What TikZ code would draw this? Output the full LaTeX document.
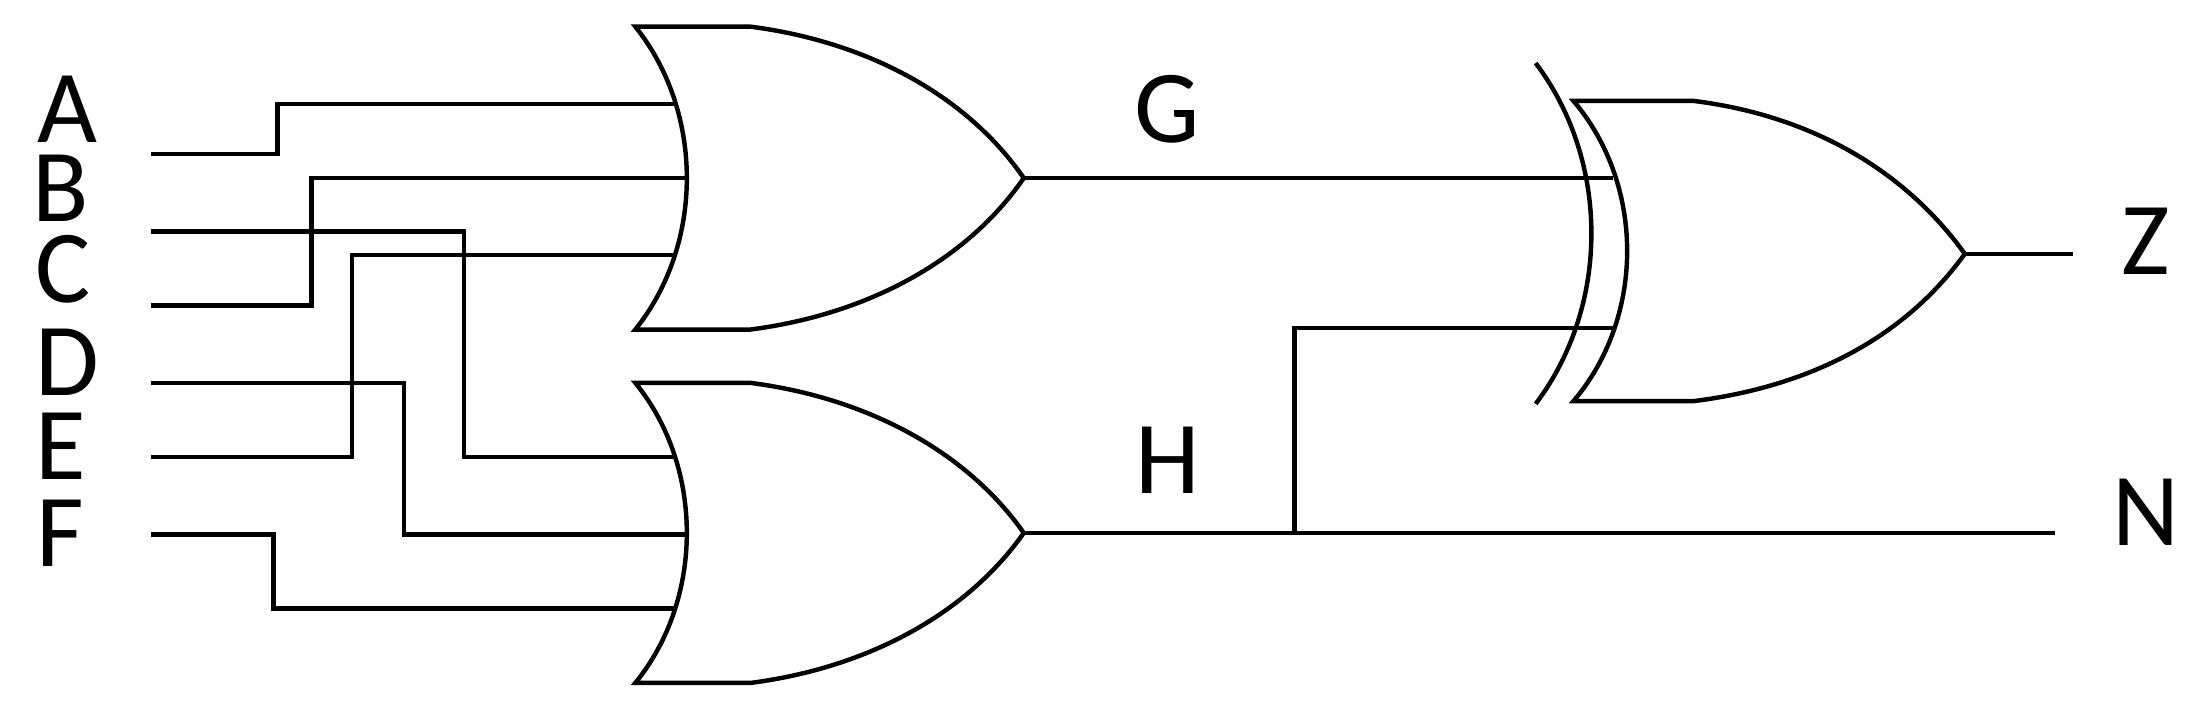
\documentclass[tikz,border=0pt]{standalone}
\usepackage{fontspec}
\setmainfont{Carlito}
\begin{document}
\begin{tikzpicture}[x=0.01cm,y=-0.01cm,line width=0.9pt,
  lbl/.style={font=\fontsize{21}{21}\selectfont,inner sep=0pt}]
\useasboundingbox (0,0) rectangle (1568,501);
% OR gate 1
\draw (535,19) -- (453,19) .. controls (502,80) and (502,174) .. (453,235) -- (535,235)
  .. controls (620,224) and (690,185) .. (730,127)
  .. controls (690,69) and (620,30) .. (535,19);
% OR gate 2
\draw (535,273) -- (453,273) .. controls (502,333) and (502,427) .. (453,487) -- (535,487)
  .. controls (620,476) and (690,437) .. (730,380)
  .. controls (690,323) and (620,284) .. (535,273);
% XOR gate
\draw (1208,72) -- (1122,72) .. controls (1173,132) and (1173,226) .. (1122,286) -- (1208,286)
  .. controls (1295,275) and (1360,238) .. (1401,181)
  .. controls (1360,124) and (1295,83) .. (1208,72);
\draw (1095,45) .. controls (1148,115) and (1148,218) .. (1095,288);
% nodes
\node[lbl] (A) at (48,78) {A};
\node[lbl] (B) at (43,134) {B};
\node[lbl] (C) at (45,192) {C};
\node[lbl] (D) at (48,258) {D};
\node[lbl] (E) at (43,318) {E};
\node[lbl] (F) at (43,380) {F};
\node[lbl] (G) at (832,78) {G};
\node[lbl] (H) at (833,328) {H};
\node[lbl] (Z) at (1530,172) {Z};
\node[lbl] (N) at (1530,365) {N};
% wires
\draw (108,110) -- (198,110) -- (198,74) -- (482,74);
\draw (108,218) -- (222,218) -- (222,127) -- (490,127);
\draw (108,165) -- (331,165) -- (331,326) -- (482,326);
\draw (108,273) -- (288,273) -- (288,381) -- (490,381);
\draw (108,326) -- (251,326) -- (251,182) -- (482,182);
\draw (108,381) -- (195,381) -- (195,434) -- (482,434);
\draw (730,127) -- (1150,127);
\draw (730,380) -- (1465,380);
\draw (923,380) -- (923,234) -- (1150,234);
\draw (1401,181) -- (1478,181);
\end{tikzpicture}
\end{document}
